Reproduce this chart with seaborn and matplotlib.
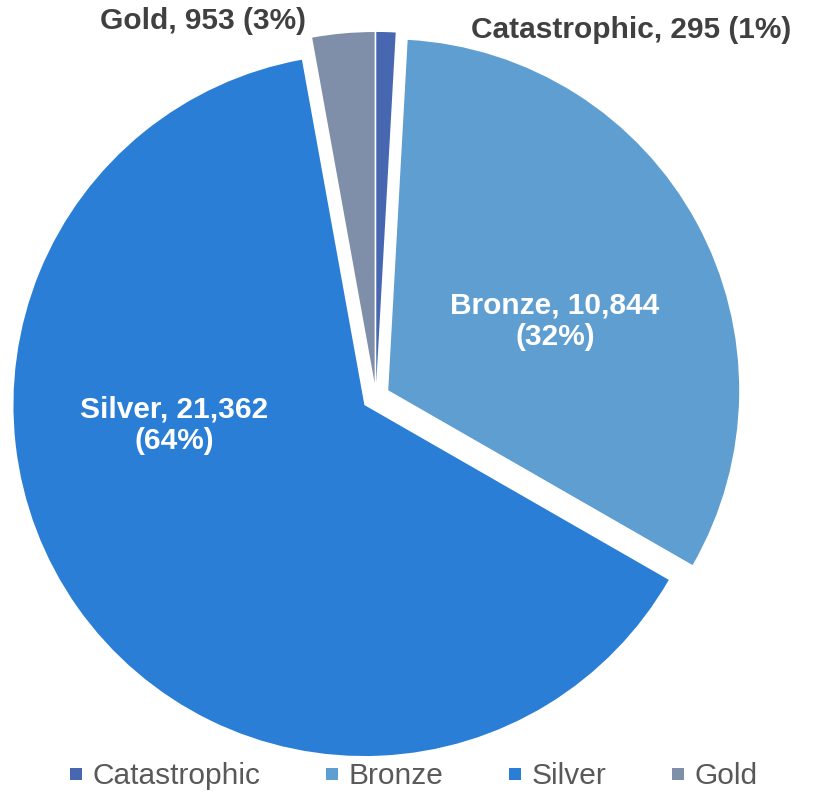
import matplotlib
matplotlib.use("Agg")
import matplotlib.pyplot as plt
from matplotlib.lines import Line2D
import seaborn as sns

sns.set_theme(style="white")
plt.rcParams['font.family'] = ['Liberation Sans', 'DejaVu Sans']

categories = ["Catastrophic", "Bronze", "Silver", "Gold"]
counts = [295, 10844, 21362, 953]
percents = [1, 32, 64, 3]
colors = ["#4768B0", "#5F9ED1", "#2A7ED6", "#7F8FA9"]

fig = plt.figure(figsize=(8.16, 7.95), dpi=100)
ax = fig.add_axes([0, 0, 1, 1])

wedges, _ = ax.pie(counts, colors=colors, startangle=90, counterclock=False,
                   explode=[0.04] * 4, radius=1.0,
                   wedgeprops=dict(linewidth=0))
ax.set_xlim(-1.071, 1.254)
ax.set_ylim(-1.134, 1.131)
ax.set_aspect('equal')
ax.axis('off')

# label positions (data units, radius = 1)
lab_pos = [(0.27, 1.045, 'left', '#404040', False),
           (0.51, 0.215, 'center', 'white', True),
           (-0.575, -0.08, 'center', 'white', True),
           (-0.20, 1.07, 'right', '#404040', False)]
for cat, n, p, (x, y, ha, col, wrap) in zip(categories, counts, percents, lab_pos):
    sep = "\n" if wrap else " "
    ax.text(x, y, f"{cat}, {n:,}{sep}({p}%)", ha=ha, va='center', color=col,
            fontsize=21.5, fontweight='bold', linespacing=1.18)

handles = [Line2D([], [], marker='s', linestyle='none', markersize=8,
                  markerfacecolor=c, markeredgewidth=0) for c in colors]
leg = ax.legend(handles, categories, loc='lower center', ncol=4,
                bbox_to_anchor=(0.505, -0.028), bbox_transform=fig.transFigure,
                frameon=False, fontsize=21.5, handlelength=0.6, handletextpad=0.25,
                columnspacing=2.1, labelcolor='#595959')

fig.savefig("out.png", dpi=100)
